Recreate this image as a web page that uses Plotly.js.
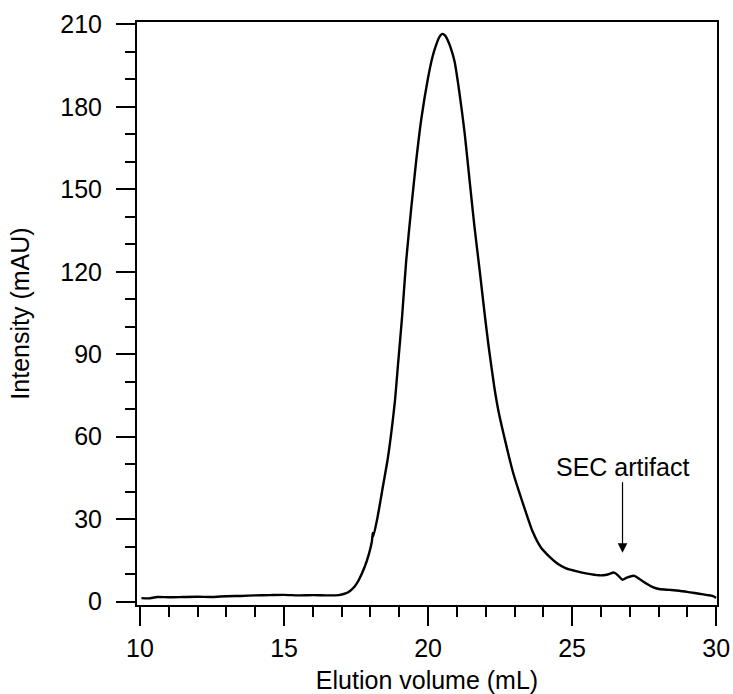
<!DOCTYPE html>
<html>
<head>
<meta charset="utf-8">
<script src="https://cdn.plot.ly/plotly-3.0.1.min.js"></script>
<style>html,body{margin:0;padding:0;background:#fff;}#chart{width:733px;height:694px;}</style>
</head>
<body>
<div id="chart"></div>
<script>
// Elution volume (mL)
const elutionVolume = [
  10.05, 10.3, 10.6, 11.0, 11.5, 12.0, 12.5, 13.0, 13.5, 14.0, 14.5, 15.0, 15.5, 16.0, 16.5, 16.9,
  17.16, 17.3, 17.45, 17.6, 17.8, 17.95, 18.05, 18.08, 18.1, 18.25, 18.43, 18.6, 18.72, 18.85, 18.95,
  19.1, 19.24, 19.42, 19.59, 19.76, 19.99, 20.15, 20.28, 20.4, 20.49, 20.6, 20.69, 20.8, 20.92,
  21.09, 21.27, 21.44, 21.61, 21.79, 21.96, 22.1, 22.3, 22.45, 22.7, 22.95, 23.3, 23.63, 23.9,
  24.21, 24.5, 24.79, 25.1, 25.48, 25.94, 26.2, 26.46, 26.6, 26.75, 26.9, 27.16, 27.35, 27.56,
  27.8, 28.02, 28.4, 28.72, 29.1, 29.41, 29.7, 29.87, 30.0
];
// Intensity (mAU)
const intensity = [
  1.3, 1.2, 1.7, 1.6, 1.7, 1.8, 1.7, 2.0, 2.1, 2.3, 2.4, 2.5, 2.3, 2.4, 2.3, 2.4,
  3.1, 4.0, 5.5, 8.0, 12.7, 17.5, 22.0, 25.0, 23.8, 31.0, 41.8, 52.0, 61.2, 73.0, 85.5,
  104.0, 124.0, 143.6, 160.6, 175.2, 190.0, 198.0, 202.5, 205.5, 206.5, 205.8, 204.0, 201.0, 196.5,
  185.0, 170.4, 153.3, 136.4, 120.6, 105.0, 93.0, 78.0, 69.0, 57.5, 47.0, 35.5, 25.5, 20.0,
  16.4, 13.8, 12.1, 11.2, 10.3, 9.6, 9.8, 10.6, 9.5, 8.0, 8.8, 9.4, 8.2, 6.7,
  5.3, 4.6, 4.3, 4.0, 3.4, 2.9, 2.4, 2.1, 1.4
];
const xTicks = [10, 15, 20, 25, 30];
const yTicks = [0, 30, 60, 90, 120, 150, 180, 210];
const annotationLabel = "SEC artifact";
const annotationPoint = [26.75, 17.8];

const font = {family: "Liberation Sans, Arial, Helvetica, sans-serif", size: 25, color: "#000"};

const trace = {
  x: elutionVolume, y: intensity, type: "scatter", mode: "lines",
  line: {color: "#000", width: 2.4, shape: "spline", smoothing: 0.6}, hoverinfo: "skip"
};

const axisCommon = {
  showgrid: false, zeroline: false, showline: true, linecolor: "#000", linewidth: 2,
  mirror: true, ticks: "outside", ticklen: 19, tickwidth: 2, tickcolor: "#000",
  tickfont: font
};

const layout = {
  width: 733, height: 694,
  margin: {l: 137, r: 16, t: 22, b: 89},
  paper_bgcolor: "#fff", plot_bgcolor: "#fff",
  showlegend: false,
  font: font,
  xaxis: Object.assign({}, axisCommon, {
    range: [9.895, 30.03],
    tickvals: xTicks, ticktext: xTicks.map(String),
    minor: {dtick: 1, tick0: 10, ticks: "outside", ticklen: 10, tickwidth: 2, tickcolor: "#000", showgrid: false},
    ticklabelstandoff: 1,
    title: {text: "Elution volume (mL)", font: font, standoff: 10}
  }),
  yaxis: Object.assign({}, axisCommon, {
    range: [-1.2, 210.84],
    tickvals: yTicks, ticktext: yTicks.map(String),
    minor: {dtick: 10, tick0: 0, ticks: "outside", ticklen: 10, tickwidth: 2, tickcolor: "#000", showgrid: false},
    ticklabelstandoff: 9,
    title: {text: "Intensity (mAU)", font: font, standoff: 24}
  }),
  annotations: [{
    x: annotationPoint[0], y: annotationPoint[1], xref: "x", yref: "y",
    text: annotationLabel, showarrow: true, arrowhead: 2, arrowsize: 1.6, arrowwidth: 1.2,
    arrowcolor: "#000", ax: 0, ay: -86, font: font
  }]
};

Plotly.newPlot("chart", [trace], layout, {displayModeBar: false, staticPlot: true});
</script>
</body>
</html>
